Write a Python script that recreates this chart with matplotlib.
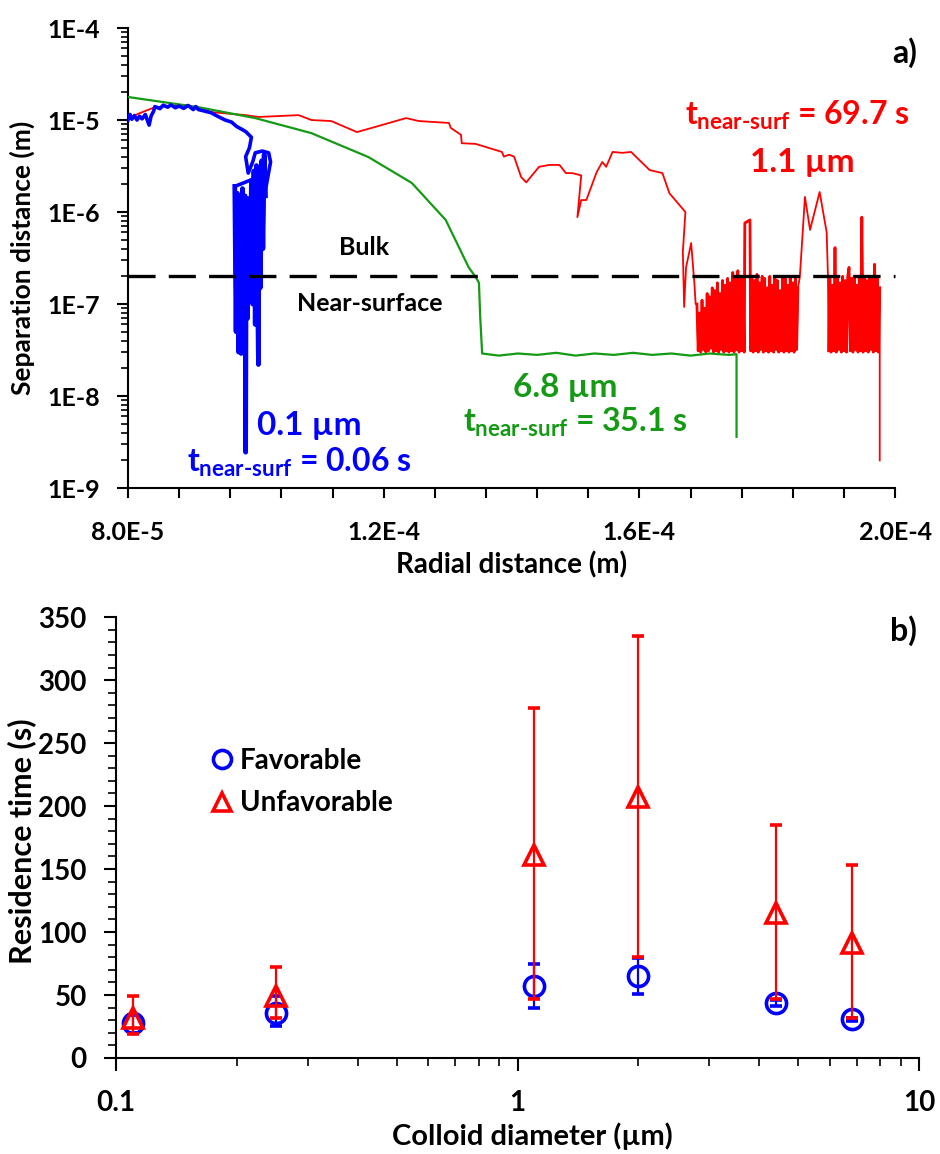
import numpy as np
import matplotlib
matplotlib.use("Agg")
import matplotlib.pyplot as plt
from matplotlib.ticker import (FixedLocator, MultipleLocator, LogLocator,
                               FuncFormatter, NullFormatter)
from matplotlib.lines import Line2D

plt.rcParams['font.family'] = ['Lato', 'DejaVu Sans']
plt.rcParams['font.weight'] = 'bold'
plt.rcParams['mathtext.fontset'] = 'custom'
plt.rcParams['mathtext.rm'] = 'Lato:bold'
plt.rcParams['mathtext.it'] = 'Lato:bold'
plt.rcParams['mathtext.bf'] = 'Lato:bold'
plt.rcParams['lines.scale_dashes'] = False

# ---------------- Panel a) data : (radial distance [1e-5 m], separation [m]) ----
red_main = [(8.00, 1.05e-5), (8.20, 1.2e-5), (8.42, 1.38e-5), (8.89, 1.46e-5),
            (9.30, 1.22e-5), (9.84, 1.13e-5), (10.04, 1.08e-5), (10.67, 1.13e-5),
            (10.87, 1.0e-5), (11.18, 9.75e-6), (11.58, 7.4e-6), (11.81, 8.2e-6),
            (12.35, 1.05e-5), (12.55, 9.75e-6), (13.02, 9.3e-6), (13.05, 8.2e-6),
            (13.21, 6.9e-6), (13.22, 5.6e-6), (13.44, 5.5e-6), (13.85, 4.5e-6),
            (13.88, 4.0e-6), (13.96, 4.2e-6), (14.04, 4.0e-6), (14.15, 2.4e-6),
            (14.23, 2.1e-6), (14.43, 3.1e-6), (14.59, 3.25e-6), (14.75, 3.25e-6),
            (14.85, 2.65e-6), (14.95, 2.65e-6), (15.09, 2.5e-6), (15.03, 8.8e-7),
            (15.09, 1.35e-6), (15.17, 1.35e-6), (15.33, 2.7e-6), (15.42, 3.5e-6),
            (15.48, 3.1e-6), (15.58, 4.5e-6), (15.73, 4.4e-6), (15.87, 4.5e-6),
            (16.16, 2.86e-6), (16.36, 2.65e-6), (16.47, 1.6e-6), (16.72, 1.0e-6),
            (16.68, 3.7e-7), (16.70, 9.3e-8), (16.73, 2.5e-7), (16.81, 4.6e-7),
            (16.86, 1.7e-7), (16.88, 1.0e-7)]
red_block1 = [
    (16.90, 1.0e-7), (16.92, 3.1e-8), (16.94, 8.0e-8), (16.96, 3.0e-8),
    (16.98, 1.1e-7), (17.00, 3.2e-8), (17.02, 9.0e-8), (17.04, 3.0e-8),
    (17.06, 1.3e-7), (17.08, 3.1e-8), (17.10, 1.2e-7), (17.12, 3.3e-8),
    (17.14, 1.5e-7), (17.16, 3.0e-8), (17.18, 1.4e-7), (17.20, 3.1e-8),
    (17.22, 1.7e-7), (17.24, 3.0e-8), (17.26, 1.3e-7), (17.28, 3.2e-8),
    (17.30, 1.8e-7), (17.32, 3.0e-8), (17.34, 1.6e-7), (17.36, 3.1e-8),
    (17.38, 1.9e-7), (17.40, 3.0e-8), (17.42, 1.7e-7), (17.44, 3.1e-8),
    (17.46, 2.2e-7), (17.48, 3.0e-8), (17.50, 2.0e-7), (17.52, 3.2e-8),
    (17.54, 2.3e-7), (17.56, 3.0e-8), (17.58, 1.9e-7), (17.60, 3.1e-8),
    (17.62, 2.0e-7), (17.64, 3.0e-8), (17.65, 7.6e-7), (17.73, 8.2e-7),
    (17.74, 3.1e-8), (17.76, 2.0e-7), (17.78, 3.0e-8), (17.80, 1.8e-7),
    (17.82, 3.1e-8), (17.84, 2.1e-7), (17.86, 3.0e-8), (17.88, 1.7e-7),
    (17.90, 3.2e-8), (17.92, 2.0e-7), (17.94, 3.0e-8), (17.96, 1.9e-7),
    (17.98, 3.1e-8), (18.00, 1.5e-7), (18.02, 3.0e-8), (18.04, 2.0e-7),
    (18.06, 3.1e-8), (18.08, 1.6e-7), (18.10, 3.0e-8), (18.12, 2.0e-7),
    (18.14, 3.2e-8), (18.16, 1.8e-7), (18.18, 3.0e-8), (18.20, 1.4e-7),
    (18.22, 3.1e-8), (18.24, 2.0e-7), (18.26, 3.0e-8), (18.28, 1.9e-7),
    (18.30, 3.1e-8), (18.32, 1.6e-7), (18.34, 3.0e-8), (18.36, 2.0e-7),
    (18.38, 3.1e-8), (18.40, 1.7e-7), (18.42, 3.0e-8), (18.44, 2.0e-7),
    (18.46, 3.2e-8), (18.48, 1.5e-7)]
red_mid = [(18.51, 1.96e-7), (18.59, 1.46e-6), (18.67, 6.4e-7), (18.82, 1.65e-6),
           (18.93, 6.0e-7), (18.95, 2.0e-7)]
red_block2 = [
    (18.96, 3.1e-8), (18.98, 1.9e-7), (19.00, 3.0e-8), (19.02, 1.6e-7),
    (19.04, 3.1e-8), (19.06, 4.1e-7), (19.08, 3.0e-8), (19.10, 2.0e-7),
    (19.12, 3.2e-8), (19.14, 1.7e-7), (19.16, 3.0e-8), (19.18, 2.0e-7),
    (19.20, 3.1e-8), (19.22, 1.8e-7), (19.24, 3.0e-8), (19.26, 2.0e-7),
    (19.28, 2.5e-7), (19.30, 3.1e-8), (19.32, 1.9e-7), (19.34, 3.0e-8),
    (19.36, 2.0e-7), (19.38, 3.2e-8), (19.40, 1.6e-7), (19.42, 3.0e-8),
    (19.44, 2.0e-7), (19.46, 3.1e-8), (19.48, 8.8e-7), (19.50, 3.0e-8),
    (19.52, 2.0e-7), (19.54, 3.1e-8), (19.56, 1.8e-7), (19.58, 3.0e-8),
    (19.60, 2.0e-7), (19.62, 3.2e-8), (19.64, 1.9e-7), (19.66, 3.0e-8),
    (19.68, 2.7e-7), (19.70, 3.1e-8), (19.72, 2.0e-7), (19.74, 3.0e-8),
    (19.76, 1.5e-7), (19.76, 2.0e-9)]

green_path = [(8.00, 1.78e-5), (9.10, 1.38e-5), (9.99, 1.05e-5), (10.87, 7.2e-6),
              (11.76, 3.96e-6), (12.44, 2.07e-6), (12.97, 8.2e-7), (13.33, 2.5e-7),
              (13.44, 1.96e-7), (13.49, 1.7e-7), (13.51, 7.2e-8), (13.54, 2.9e-8),
              (13.80, 2.75e-8), (14.10, 2.9e-8), (14.40, 2.8e-8), (14.70, 2.95e-8),
              (15.00, 2.75e-8), (15.30, 2.9e-8), (15.60, 2.8e-8), (15.90, 2.95e-8),
              (16.20, 2.8e-8), (16.50, 2.9e-8), (16.80, 2.75e-8), (17.10, 2.9e-8),
              (17.40, 2.8e-8), (17.52, 2.85e-8), (17.52, 3.6e-9)]

blue_path = [(8.00, 1.0e-5), (8.03, 1.15e-5), (8.06, 1.02e-5), (8.10, 1.12e-5),
             (8.14, 1.0e-5), (8.18, 1.1e-5), (8.22, 1.03e-5), (8.27, 1.15e-5),
             (8.33, 8.8e-6), (8.36, 1.1e-5), (8.40, 1.25e-5), (8.42, 1.4e-5),
             (8.50, 1.33e-5), (8.55, 1.45e-5), (8.62, 1.38e-5), (8.67, 1.46e-5),
             (8.74, 1.36e-5), (8.80, 1.42e-5), (8.87, 1.34e-5), (8.94, 1.44e-5),
             (9.02, 1.3e-5), (9.06, 1.4e-5), (9.10, 1.3e-5), (9.20, 1.25e-5),
             (9.30, 1.2e-5), (9.40, 1.1e-5), (9.52, 1.0e-5), (9.62, 9.5e-6),
             (9.70, 8.5e-6), (9.77, 8.0e-6), (9.84, 7.5e-6), (9.93, 6.5e-6),
             (9.90, 5.0e-6), (9.84, 4.0e-6), (9.88, 2.65e-6), (9.95, 3.5e-6),
             (9.99, 4.4e-6), (10.10, 4.6e-6), (10.20, 4.4e-6), (10.23, 3.5e-6),
             (10.15, 1.74e-6), (10.10, 2.5e-6)]
blue_dense = [(9.67, 1.9e-6), (9.69, 5.0e-8), (9.71, 1.6e-6), (9.73, 3.0e-8),
              (9.75, 1.3e-6), (9.77, 2.9e-8), (9.79, 1.8e-6), (9.81, 4.5e-8),
              (9.83, 1.5e-6), (9.84, 2.45e-9), (9.85, 1.2e-6), (9.87, 7.0e-8),
              (9.89, 1.4e-6), (9.91, 1.2e-7), (9.93, 2.2e-6), (9.95, 1.0e-7),
              (9.97, 2.8e-6), (9.99, 6.0e-8), (10.01, 3.2e-6), (10.03, 9.0e-8),
              (10.04, 2.2e-8), (10.05, 2.5e-6), (10.07, 1.5e-7), (10.09, 3.6e-6),
              (10.11, 4.0e-7), (10.13, 4.2e-6), (10.15, 1.5e-6)]

threshold = 2.0e-7
x_limits = (8.0e-5, 2.0e-4)
y_limits = (1e-9, 1e-4)
x_major = [8.0e-5, 1.2e-4, 1.6e-4, 2.0e-4]

# ---------------- Panel b) data ----------------
diameter = [0.11, 0.25, 1.1, 2.0, 4.4, 6.8]
fav_mean = [28, 36, 57, 65, 44, 31]
fav_low = [20, 25, 40, 51, 41, 29]
fav_high = [34, 49, 75, 79, 46, 32]
unfav_mean = [32, 49, 161, 207, 115, 91]
unfav_low = [19, 32, 47, 80, 47, 32]
unfav_high = [49, 72, 278, 335, 185, 153]

RED = '#FF0000'
GREEN = '#149A14'
BLUE = '#0000FF'

fig = plt.figure(figsize=(9.4, 11.54), dpi=100)

# ================= Panel a =================
ax1 = fig.add_axes([0.1362, 0.5771, 0.816, 0.3986])


def xy(points):
    xs, ys = zip(*points)
    return np.array(xs) * 1e-5, np.array(ys)


rx, ry = xy(red_main + red_block1 + red_mid + red_block2)
r1x, r1y = xy(red_block1)
r2x, r2y = xy(red_block2[:-1])
gx, gy = xy(green_path)
bx, by = xy(blue_path + blue_dense)
bdx, bdy = xy(blue_dense)

ax1.plot(rx, ry, color=RED, lw=1.3, zorder=2)
ax1.plot(r1x, r1y, color=RED, lw=2.0, zorder=2)
ax1.plot(r2x, r2y, color=RED, lw=2.0, zorder=2)
ax1.plot(gx, gy, color=GREEN, lw=1.6, zorder=3)
ax1.plot(bx, by, color=BLUE, lw=2.6, zorder=4, solid_joinstyle='round')
ax1.plot(bdx, bdy, color=BLUE, lw=3.4, zorder=4, solid_joinstyle='round')
ax1.plot(list(x_limits), [threshold, threshold], color='black', lw=2.4,
         dashes=(19.5, 9.5), zorder=6, clip_on=False)

ax1.set_yscale('log')
ax1.set_xlim(*x_limits)
ax1.set_ylim(*y_limits)
for s in ['top', 'right']:
    ax1.spines[s].set_visible(False)
for s in ['left', 'bottom']:
    ax1.spines[s].set_linewidth(1.5)

ax1.xaxis.set_major_locator(FixedLocator(x_major))
ax1.xaxis.set_minor_locator(MultipleLocator(8e-6))


def sci_fmt(v, pos):
    m, e = f"{v:.1E}".split('E')
    return f"{m}E{int(e)}"


ax1.xaxis.set_major_formatter(FuncFormatter(sci_fmt))
ax1.yaxis.set_major_locator(LogLocator(base=10, numticks=20))
ax1.yaxis.set_minor_locator(LogLocator(base=10, subs=np.arange(2, 10), numticks=50))
ax1.yaxis.set_minor_formatter(NullFormatter())
ax1.yaxis.set_major_formatter(FuncFormatter(lambda v, p: f"1E{int(round(np.log10(v)))}"))

ax1.tick_params(axis='x', which='both', direction='out', length=7, width=1.5,
                labelsize=18, pad=17)
ax1.tick_params(axis='y', which='major', direction='out', length=8, width=1.5,
                labelsize=18, pad=12)
ax1.tick_params(axis='y', which='minor', direction='out', length=5, width=1.2)

ax1.set_ylabel('Separation distance (m)', fontsize=19, fontweight='bold',
               va='center', ha='center')
ax1.yaxis.set_label_coords(-0.138, 0.5)
ax1.set_xlabel('Radial distance (m)', fontsize=20, fontweight='bold',
               va='center', ha='center')
ax1.xaxis.set_label_coords(0.5, -0.167)

tfs = 23
mfs = 24
ax1.text(0.308, 0.522, 'Bulk', transform=ax1.transAxes, fontsize=18,
         fontweight='bold', ha='center', va='center')
ax1.text(0.3155, 0.402, 'Near-surface', transform=ax1.transAxes, fontsize=18,
         fontweight='bold', ha='center', va='center')
ax1.text(0.168, 0.115, '0.1 µm', transform=ax1.transAxes, fontsize=mfs,
         fontweight='bold', color=BLUE, ha='left', va='baseline')
ax1.text(0.077, 0.035, r'$t_{near\text{-}surf}$ = 0.06 s', transform=ax1.transAxes,
         fontsize=tfs, fontweight='bold', color=BLUE, ha='left', va='baseline')
ax1.text(0.502, 0.198, '6.8 µm', transform=ax1.transAxes, fontsize=mfs,
         fontweight='bold', color=GREEN, ha='left', va='baseline')
ax1.text(0.437, 0.122, r'$t_{near\text{-}surf}$ = 35.1 s', transform=ax1.transAxes,
         fontsize=tfs, fontweight='bold', color=GREEN, ha='left', va='baseline')
ax1.text(0.726, 0.789, r'$t_{near\text{-}surf}$ = 69.7 s', transform=ax1.transAxes,
         fontsize=tfs, fontweight='bold', color=RED, ha='left', va='baseline')
ax1.text(0.811, 0.687, '1.1 µm', transform=ax1.transAxes, fontsize=mfs,
         fontweight='bold', color=RED, ha='left', va='baseline')
ax1.text(1.029, 0.946, 'a)', transform=ax1.transAxes, fontsize=23,
         fontweight='bold', ha='right', va='center', clip_on=False)

# ================= Panel b =================
ax2 = fig.add_axes([0.1234, 0.0832, 0.8543, 0.3820])

fav_err = [np.array(fav_mean) - np.array(fav_low), np.array(fav_high) - np.array(fav_mean)]
unf_err = [np.array(unfav_mean) - np.array(unfav_low), np.array(unfav_high) - np.array(unfav_mean)]

ax2.errorbar(diameter, fav_mean, yerr=fav_err, fmt='o', ms=14.5, mfc='none',
             mec=BLUE, mew=2.6, ecolor=BLUE, elinewidth=1.6, capsize=4.5,
             capthick=1.6, zorder=3)
ax2.errorbar(diameter, unfav_mean, yerr=unf_err, fmt='^', ms=15, mfc='none',
             mec=RED, mew=2.6, ecolor=RED, elinewidth=1.6, capsize=4.5,
             capthick=1.6, zorder=4)

ax2.set_xscale('log')
ax2.set_xlim(0.1, 10)
ax2.set_ylim(0, 350)
for s in ['top', 'right']:
    ax2.spines[s].set_visible(False)
for s in ['left', 'bottom']:
    ax2.spines[s].set_linewidth(1.5)
ax2.yaxis.set_major_locator(MultipleLocator(50))
ax2.yaxis.set_minor_locator(MultipleLocator(10))
ax2.xaxis.set_major_locator(LogLocator(base=10, numticks=10))
ax2.xaxis.set_minor_locator(LogLocator(base=10, subs=np.arange(2, 10), numticks=20))
ax2.xaxis.set_minor_formatter(NullFormatter())
ax2.xaxis.set_major_formatter(FuncFormatter(lambda v, p: f"{v:g}"))
ax2.tick_params(axis='both', which='major', direction='out', length=9, width=1.5,
                labelsize=20)
ax2.tick_params(axis='both', which='minor', direction='out', length=6, width=1.2)
ax2.tick_params(axis='y', which='major', pad=12)
ax2.tick_params(axis='x', which='major', pad=14)

ax2.set_ylabel('Residence time (s)', fontsize=22, fontweight='bold',
               va='center', ha='center')
ax2.yaxis.set_label_coords(-0.118, 0.492)
ax2.set_xlabel('Colloid diameter (µm)', fontsize=21, fontweight='bold',
               va='center', ha='center')
ax2.xaxis.set_label_coords(0.518, -0.178)

ax2.text(0.9975, 0.97, 'b)', transform=ax2.transAxes, fontsize=23,
         fontweight='bold', ha='right', va='center', clip_on=False)

handles = [Line2D([], [], ls='none', marker='o', ms=13, mfc='none', mec=BLUE, mew=2.6),
           Line2D([], [], ls='none', marker='^', ms=13, mfc='none', mec=RED, mew=2.6)]
ax2.legend(handles, ['Favorable', 'Unfavorable'], loc='center left',
           bbox_to_anchor=(0.12, 0.626), frameon=False, borderpad=0,
           borderaxespad=0, handlelength=0.7, handletextpad=0.3,
           labelspacing=0.6, prop={'weight': 'bold', 'size': 20})

fig.savefig('out.png', dpi=100)
